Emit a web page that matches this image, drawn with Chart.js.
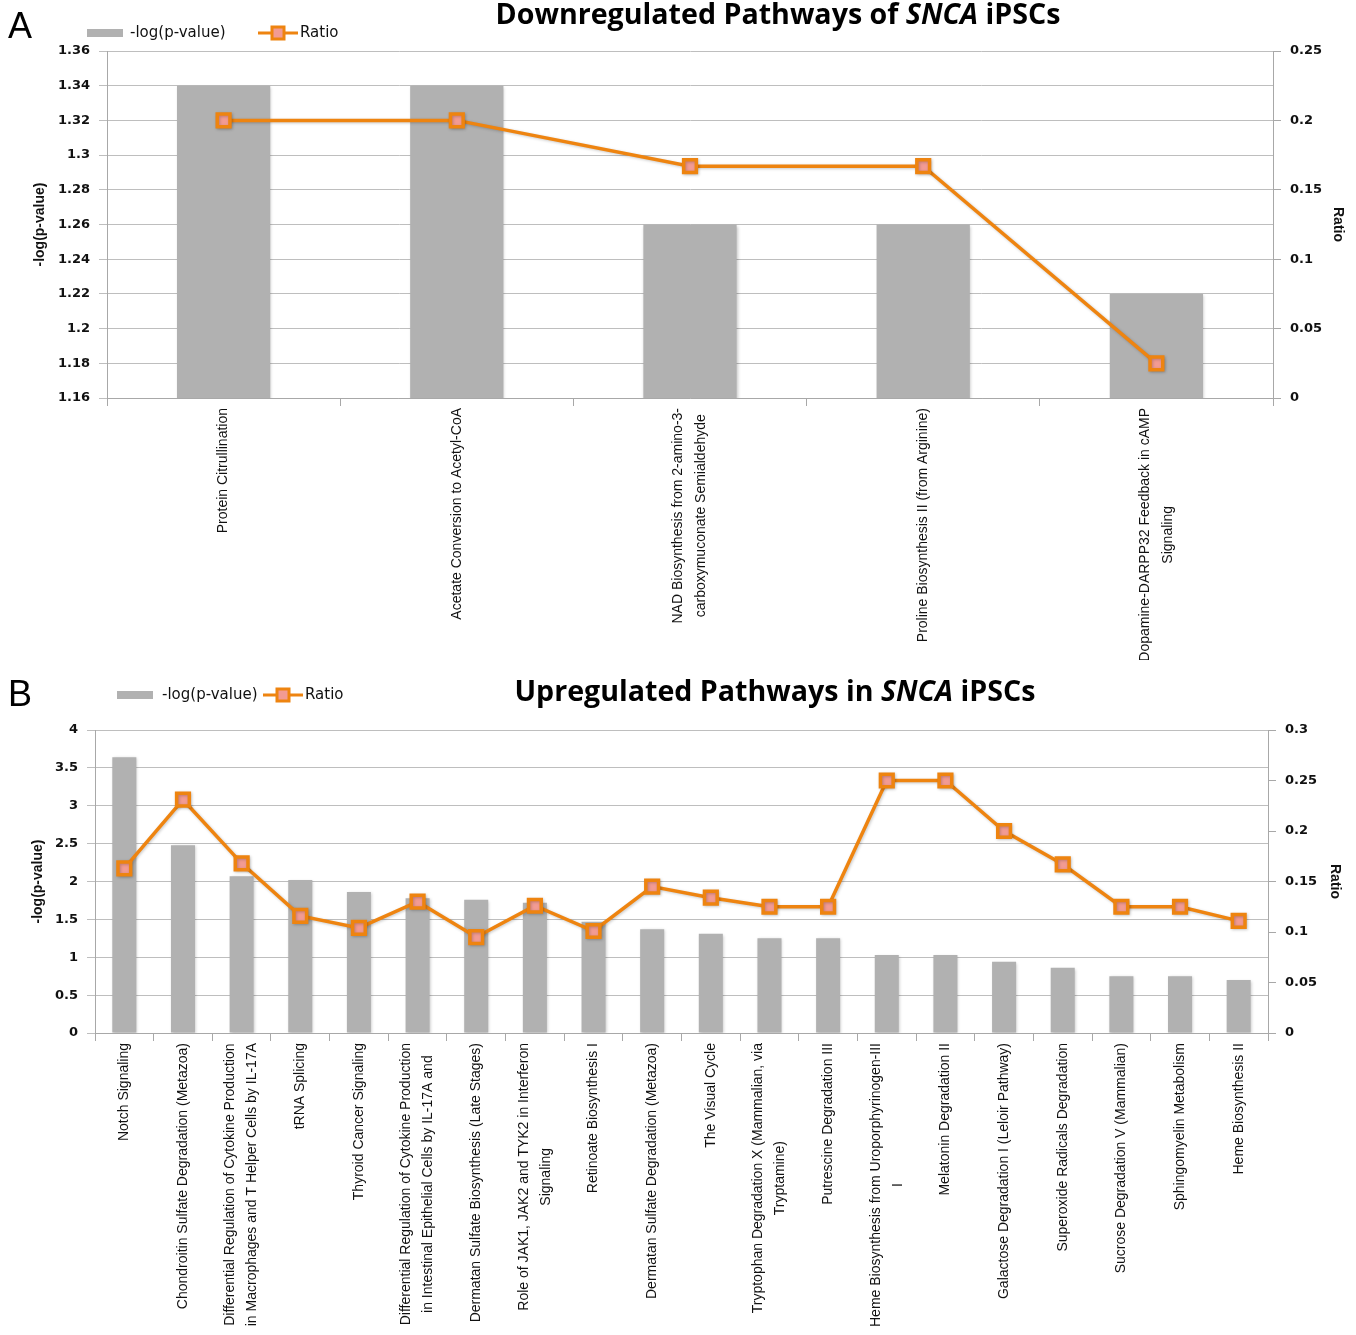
<!DOCTYPE html>
<html>
<head>
<meta charset="utf-8">
<script src="https://cdn.jsdelivr.net/npm/chart.js@4.4.1/dist/chart.umd.min.js"></script>
<style>
  html, body { margin: 0; padding: 0; background: #fff; }
  #wrap { position: relative; width: 1356px; height: 1335px; overflow: hidden; }
  canvas { position: absolute; left: 0; }
  #chartDown { top: 0; }
  #chartUp { top: 660px; }
</style>
</head>
<body>
<div id="wrap">
  <canvas id="chartDown" width="1356" height="660"></canvas>
  <canvas id="chartUp" width="1356" height="675"></canvas>
</div>
<script>
// ---- Downregulated pathways ----
const downCategories = [
  ["Protein Citrullination"],
  ["Acetate Conversion to Acetyl-CoA"],
  ["NAD Biosynthesis from 2-amino-3-", "carboxymuconate Semialdehyde"],
  ["Proline Biosynthesis II (from Arginine)"],
  ["Dopamine-DARPP32 Feedback in cAMP", "Signaling"]
];
const downLogP = [1.34, 1.34, 1.26, 1.26, 1.22];
const downRatio = [0.2, 0.2, 0.167, 0.167, 0.025];
const downLeftTicks = { min: 1.16, max: 1.36, step: 0.02 };
const downRightTicks = { min: 0, max: 0.25, step: 0.05 };

// ---- Upregulated pathways ----
const upCategories = [
  ["Notch Signaling"],
  ["Chondroitin Sulfate Degradation (Metazoa)"],
  ["Differential Regulation of Cytokine Production", "in Macrophages and T Helper Cells by IL-17A"],
  ["tRNA Splicing"],
  ["Thyroid Cancer Signaling"],
  ["Differential Regulation of Cytokine Production", "in Intestinal Epithelial Cells by IL-17A and"],
  ["Dermatan Sulfate Biosynthesis (Late Stages)"],
  ["Role of JAK1, JAK2 and TYK2 in Interferon", "Signaling"],
  ["Retinoate Biosynthesis I"],
  ["Dermatan Sulfate Degradation (Metazoa)"],
  ["The Visual Cycle"],
  ["Tryptophan Degradation X (Mammalian, via", "Tryptamine)"],
  ["Putrescine Degradation III"],
  ["Heme Biosynthesis from Uroporphyrinogen-III", "I"],
  ["Melatonin Degradation II"],
  ["Galactose Degradation I (Leloir Pathway)"],
  ["Superoxide Radicals Degradation"],
  ["Sucrose Degradation V (Mammalian)"],
  ["Sphingomyelin Metabolism"],
  ["Heme Biosynthesis II"]
];
const upLogP = [3.64, 2.48, 2.07, 2.02, 1.86, 1.78, 1.76, 1.72, 1.47, 1.37,
                1.31, 1.25, 1.25, 1.03, 1.03, 0.94, 0.86, 0.75, 0.75, 0.70];
const upRatio = [0.163, 0.231, 0.168, 0.116, 0.104, 0.130, 0.095, 0.126, 0.101, 0.145,
                 0.134, 0.125, 0.125, 0.25, 0.25, 0.2, 0.167, 0.125, 0.125, 0.111];
const upLeftTicks = { min: 0, max: 4, step: 0.5 };
const upRightTicks = { min: 0, max: 0.3, step: 0.05 };

const seriesNames = ["-log(p-value)", "Ratio"];

// ---- styling ----
const BAR_COLOR = '#B1B1B1';
const LINE_COLOR = '#EE8410';
const MARKER_FILL = '#F29B93';
const GRID_COLOR = '#BEBEBE';
const AXIS_COLOR = '#A8A8A8';
const TEXT_COLOR = '#111';
const TICK_FONT = { family: '"DejaVu Sans", Verdana, sans-serif', size: 13, weight: 'bold' };
const LABEL_FONT = '14px "Liberation Sans Narrow", "Arial Narrow", "Nimbus Sans Narrow", sans-serif';
const AXIS_TITLE_FONT = 'bold 14px "Liberation Sans", Arial, sans-serif';
const LEGEND_FONT = '15px "DejaVu Sans", Verdana, sans-serif';
const TITLE_FAMILY = '"Open Sans", "Noto Sans", sans-serif';

// plain tick numbers: 1.3, 0.2, 4 (no padded decimals)
const plainTick = v => String(Number(v.toFixed(4)));

// soft drop shadow under bars and markers
const shadowPlugin = {
  id: 'softShadow',
  beforeDatasetDraw(chart) {
    const ctx = chart.ctx;
    ctx.save();
    ctx.shadowColor = 'rgba(0,0,0,0.22)';
    ctx.shadowBlur = 3;
    ctx.shadowOffsetX = 1;
    ctx.shadowOffsetY = 1;
  },
  afterDatasetDraw(chart) {
    chart.ctx.restore();
  }
};

// Panel decorations: letter, title (with italic gene name), legend, axis titles, category labels
const decorPlugin = {
  id: 'decor',
  afterDraw(chart, args, o) {
    const ctx = chart.ctx;
    const area = chart.chartArea;
    const xs = chart.scales.x;
    ctx.save();
    ctx.fillStyle = '#000';

    // panel letter
    ctx.font = '36px "Liberation Sans", Arial, sans-serif';
    ctx.textAlign = 'left';
    ctx.textBaseline = 'alphabetic';
    ctx.fillText(o.letter, o.letterX, o.letterY);

    // title, fitted to its width
    const parts = o.titleParts;
    const fontFor = (p, size) => (p.italic ? 'italic ' : '') + 'bold ' + size + 'px ' + TITLE_FAMILY;
    let w100 = 0;
    parts.forEach(p => { ctx.font = fontFor(p, 100); w100 += ctx.measureText(p.text).width; });
    const size = 100 * o.titleWidth / w100;
    let tx = o.titleCX - o.titleWidth / 2;
    ctx.textBaseline = 'middle';
    parts.forEach(p => {
      ctx.font = fontFor(p, size);
      ctx.fillText(p.text, tx, o.titleY);
      tx += ctx.measureText(p.text).width;
    });

    // legend
    const lg = o.legend;
    ctx.fillStyle = BAR_COLOR;
    ctx.fillRect(lg.barX, lg.y - 4, 36, 8);
    ctx.fillStyle = TEXT_COLOR;
    ctx.font = LEGEND_FONT;
    ctx.textAlign = 'left';
    ctx.fillText(seriesNames[0], lg.barTextX, lg.y);
    ctx.strokeStyle = LINE_COLOR;
    ctx.lineWidth = 3;
    ctx.beginPath();
    ctx.moveTo(lg.lineX, lg.y);
    ctx.lineTo(lg.lineX + 40, lg.y);
    ctx.stroke();
    ctx.fillStyle = MARKER_FILL;
    ctx.fillRect(lg.lineX + 14, lg.y - 6, 12, 12);
    ctx.strokeRect(lg.lineX + 14, lg.y - 6, 12, 12);
    ctx.fillStyle = TEXT_COLOR;
    ctx.fillText(seriesNames[1], lg.lineX + 42, lg.y);

    // axis titles
    const cy = (area.top + area.bottom) / 2;
    ctx.font = AXIS_TITLE_FONT;
    ctx.textAlign = 'center';
    ctx.save();
    ctx.translate(o.leftTitleX, cy);
    ctx.rotate(-Math.PI / 2);
    ctx.fillText(seriesNames[0], 0, 0);
    ctx.restore();
    ctx.save();
    ctx.translate(o.rightTitleX, cy);
    ctx.rotate(Math.PI / 2);
    ctx.fillText(seriesNames[1], 0, 0);
    ctx.restore();

    // category labels, rotated, lines centred on each other
    ctx.font = LABEL_FONT;
    ctx.fillStyle = TEXT_COLOR;
    ctx.textBaseline = 'middle';
    chart.data.labels.forEach((lines, i) => {
      const x = xs.getPixelForValue(i);
      const top = area.bottom + o.labelGap;
      const maxW = Math.max(...lines.map(l => ctx.measureText(l).width));
      ctx.save();
      ctx.translate(x, top);
      ctx.rotate(-Math.PI / 2);
      ctx.textAlign = 'center';
      lines.forEach((l, j) => {
        ctx.fillText(l, -maxW / 2, (j - (lines.length - 1) / 2) * o.lineH);
      });
      ctx.restore();
    });
    ctx.restore();
  }
};

function buildChart(canvasId, cats, logP, ratio, leftT, rightT, box, barPct, decor) {
  const canvas = document.getElementById(canvasId);
  const W = canvas.width, H = canvas.height;
  return new Chart(canvas, {
    type: 'bar',
    data: {
      labels: cats,
      datasets: [
        {
          type: 'line',
          label: seriesNames[1],
          data: ratio,
          yAxisID: 'y1',
          order: 0,
          borderColor: LINE_COLOR,
          borderWidth: 3.5,
          tension: 0,
          pointStyle: 'rect',
          pointRadius: 9,
          pointBorderWidth: 3.5,
          pointBackgroundColor: MARKER_FILL,
          pointBorderColor: LINE_COLOR,
          clip: false
        },
        {
          type: 'bar',
          label: seriesNames[0],
          data: logP,
          yAxisID: 'y',
          order: 1,
          backgroundColor: BAR_COLOR,
          barPercentage: barPct,
          categoryPercentage: 1
        }
      ]
    },
    options: {
      responsive: false,
      animation: false,
      events: [],
      layout: { padding: { top: box.top, left: 0, right: 0, bottom: 0 } },
      plugins: {
        legend: { display: false },
        tooltip: { enabled: false },
        decor: decor
      },
      scales: {
        x: {
          type: 'category',
          offset: true,
          grid: { offset: true, drawOnChartArea: false, drawTicks: true, tickLength: 8, color: AXIS_COLOR },
          border: { display: true, color: AXIS_COLOR },
          ticks: { display: false },
          afterFit(s) { s.height = H - box.bottom; }
        },
        y: {
          position: 'left',
          min: leftT.min, max: leftT.max,
          ticks: { stepSize: leftT.step, font: TICK_FONT, color: TEXT_COLOR, padding: 9, callback: plainTick },
          grid: { color: GRID_COLOR, tickLength: 8, drawTicks: true },
          border: { display: true, color: AXIS_COLOR },
          afterFit(s) { s.width = box.left; }
        },
        y1: {
          position: 'right',
          min: rightT.min, max: rightT.max,
          ticks: { stepSize: rightT.step, font: TICK_FONT, color: TEXT_COLOR, padding: 9, callback: plainTick },
          grid: { drawOnChartArea: false, tickLength: 8, drawTicks: true, color: AXIS_COLOR },
          border: { display: true, color: AXIS_COLOR },
          afterFit(s) { s.width = W - box.right; }
        }
      }
    },
    plugins: [shadowPlugin, decorPlugin]
  });
}

buildChart('chartDown', downCategories, downLogP, downRatio, downLeftTicks, downRightTicks,
  { left: 107, right: 1273, top: 51, bottom: 398 }, 0.40,
  {
    letter: 'A', letterX: 8, letterY: 38,
    titleParts: [{ text: 'Downregulated Pathways of ' }, { text: 'SNCA', italic: true }, { text: ' iPSCs' }],
    titleCX: 778, titleY: 16, titleWidth: 565,
    legend: { barX: 87, barTextX: 130, lineX: 258, y: 33 },
    leftTitleX: 40, rightTitleX: 1338,
    labelGap: 10, lineH: 23
  });

buildChart('chartUp', upCategories, upLogP, upRatio, upLeftTicks, upRightTicks,
  { left: 95, right: 1268, top: 70, bottom: 373 }, 0.41,
  {
    letter: 'B', letterX: 8, letterY: 46,
    titleParts: [{ text: 'Upregulated Pathways in ' }, { text: 'SNCA', italic: true }, { text: ' iPSCs' }],
    titleCX: 775, titleY: 33, titleWidth: 521,
    legend: { barX: 117, barTextX: 162, lineX: 263, y: 35 },
    leftTitleX: 38, rightTitleX: 1335,
    labelGap: 10, lineH: 22
  });
</script>
</body>
</html>
